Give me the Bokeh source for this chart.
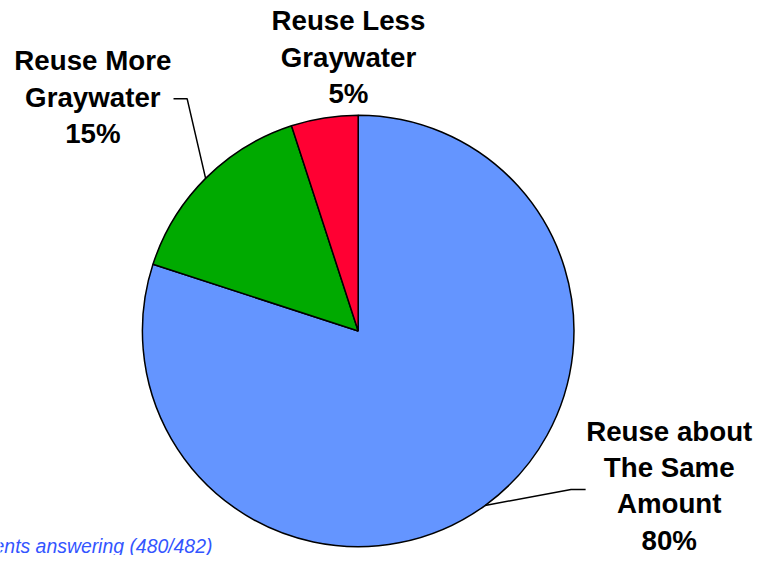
import math
from bokeh.plotting import figure
from bokeh.models import Range1d, ColumnDataSource
from bokeh.core.properties import value
from bokeh.embed import file_html
from bokeh.resources import INLINE

# ---- data ----
categories = ["Reuse about The Same Amount", "Reuse More Graywater", "Reuse Less Graywater"]
percents = [80, 15, 5]
colors = ["#6495FF", "#00AA00", "#FF0033"]
label_lines = [["Reuse about", "The Same", "Amount", "80%"],
               ["Reuse More", "Graywater", "15%"],
               ["Reuse Less", "Graywater", "5%"]]
footnote = "Percent of respondents answering (480/482)"

W, H = 761, 555
REF_H = 571
S = H / REF_H  # uniform scale from reference layout to figure pixels


def sy(y):  # reference screen y -> data y
    return REF_H - y


p = figure(width=W, height=H, output_backend="svg", toolbar_location=None,
           x_range=Range1d(0, W / S), y_range=Range1d(0, REF_H),
           min_border=0)
p.axis.visible = False
p.grid.visible = False
p.outline_line_color = None
p.background_fill_color = "white"

cx, cy, r = 368, sy(340), 222

total = sum(percents)
starts, ends, mids = [], [], []
a = 90.0
for v in percents:
    sweep = 360.0 * v / total
    starts.append(math.radians(a))
    ends.append(math.radians(a - sweep))
    mids.append(math.radians(a - sweep / 2))
    a -= sweep

src = ColumnDataSource(dict(start=starts, end=ends, color=colors, cat=categories))
p.wedge(x=cx, y=cy, radius=r, start_angle="start", end_angle="end", direction="clock",
        fill_color="color", line_color="black", line_width=1.5, source=src)

# label layout (positions)
label_pos = [(688, 443), (95, 62), (358, 21)]
line_step = 37.5
fs = f"{28.5 * S:.1f}px"

for lines, (lx, ly) in zip(label_lines, label_pos):
    ys = [sy(ly + i * line_step) for i in range(len(lines))]
    p.text(x=[lx] * len(lines), y=ys, text=lines, text_font=value("Liberation Sans"),
           text_font_style="bold", text_font_size=fs, text_align="center",
           text_baseline="middle", text_color="black")

# leader lines: blue and green slices
def edge(angle):
    return cx + r * math.cos(angle), cy + r * math.sin(angle)

bx, by = edge(mids[0])
p.line(x=[bx, 587, 602], y=[by, sy(503), sy(503)], line_color="black", line_width=1.5)
gx, gy = edge(mids[1])
p.line(x=[gx, 192, 178], y=[gy, sy(101), sy(101)], line_color="black", line_width=1.5)

p.text(x=[218], y=[sy(561)], text=[footnote], text_font=value("Liberation Sans"),
       text_font_style="italic", text_font_size=f"{20 * S:.1f}px", text_align="right",
       text_baseline="alphabetic", text_color="#3355FF")

open("out.html", "w").write(file_html(p, INLINE))
